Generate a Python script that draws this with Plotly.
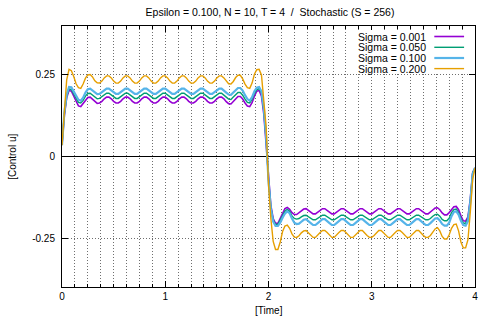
import plotly.graph_objects as go

# ---------------- data ----------------
T_END = 4.0
N_STEPS = 176
time = [i * T_END / N_STEPS for i in range(N_STEPS + 1)]

sigma_labels = ["Sigma = 0.001", "Sigma = 0.050", "Sigma = 0.100", "Sigma = 0.200"]

u_sigma_0001 = [
    0.035, 0.125, 0.180, 0.203, 0.200, 0.185, 0.166, 0.155,
    0.153, 0.162, 0.174, 0.181, 0.182, 0.176, 0.168, 0.163,
    0.164, 0.169, 0.177, 0.182, 0.182, 0.177, 0.169, 0.164,
    0.164, 0.169, 0.177, 0.182, 0.182, 0.177, 0.169, 0.164,
    0.164, 0.169, 0.177, 0.182, 0.182, 0.177, 0.169, 0.164,
    0.164, 0.169, 0.177, 0.182, 0.182, 0.177, 0.169, 0.164,
    0.164, 0.169, 0.177, 0.182, 0.182, 0.177, 0.169, 0.164,
    0.164, 0.169, 0.177, 0.182, 0.182, 0.177, 0.169, 0.164,
    0.164, 0.169, 0.177, 0.182, 0.182, 0.177, 0.168, 0.162,
    0.161, 0.168, 0.178, 0.184, 0.184, 0.176, 0.164, 0.155,
    0.153, 0.165, 0.185, 0.200, 0.203, 0.185, 0.130, 0.040,
    -0.070, -0.150, -0.190, -0.205, -0.205, -0.190, -0.172, -0.160,
    -0.156, -0.162, -0.172, -0.178, -0.178, -0.173, -0.166, -0.161,
    -0.160, -0.165, -0.171, -0.176, -0.176, -0.171, -0.165, -0.160,
    -0.160, -0.165, -0.171, -0.176, -0.176, -0.171, -0.165, -0.160,
    -0.160, -0.165, -0.171, -0.176, -0.176, -0.171, -0.165, -0.160,
    -0.160, -0.165, -0.171, -0.176, -0.176, -0.171, -0.165, -0.160,
    -0.160, -0.165, -0.171, -0.176, -0.176, -0.171, -0.165, -0.160,
    -0.160, -0.165, -0.171, -0.176, -0.176, -0.171, -0.165, -0.160,
    -0.160, -0.165, -0.171, -0.176, -0.176, -0.171, -0.164, -0.158,
    -0.157, -0.163, -0.173, -0.179, -0.179, -0.172, -0.161, -0.154,
    -0.153, -0.163, -0.182, -0.197, -0.198, -0.185, -0.130, -0.050,
    -0.035,
]

u_sigma_0050 = [
    0.035, 0.130, 0.185, 0.207, 0.205, 0.192, 0.176, 0.166,
    0.164, 0.172, 0.185, 0.193, 0.194, 0.189, 0.182, 0.177,
    0.178, 0.183, 0.189, 0.194, 0.194, 0.189, 0.183, 0.178,
    0.178, 0.183, 0.189, 0.194, 0.194, 0.189, 0.183, 0.178,
    0.178, 0.183, 0.189, 0.194, 0.194, 0.189, 0.183, 0.178,
    0.178, 0.183, 0.189, 0.194, 0.194, 0.189, 0.183, 0.178,
    0.178, 0.183, 0.189, 0.194, 0.194, 0.189, 0.183, 0.178,
    0.178, 0.183, 0.189, 0.194, 0.194, 0.189, 0.183, 0.178,
    0.178, 0.183, 0.189, 0.194, 0.194, 0.189, 0.182, 0.176,
    0.175, 0.182, 0.190, 0.196, 0.196, 0.188, 0.176, 0.166,
    0.164, 0.175, 0.193, 0.205, 0.208, 0.195, 0.140, 0.050,
    -0.070, -0.155, -0.195, -0.208, -0.208, -0.196, -0.180, -0.168,
    -0.162, -0.168, -0.182, -0.190, -0.192, -0.190, -0.185, -0.181,
    -0.180, -0.184, -0.190, -0.194, -0.194, -0.190, -0.184, -0.180,
    -0.180, -0.184, -0.190, -0.194, -0.194, -0.190, -0.184, -0.180,
    -0.180, -0.184, -0.190, -0.194, -0.194, -0.190, -0.184, -0.180,
    -0.180, -0.184, -0.190, -0.194, -0.194, -0.190, -0.184, -0.180,
    -0.180, -0.184, -0.190, -0.194, -0.194, -0.190, -0.184, -0.180,
    -0.180, -0.184, -0.190, -0.194, -0.194, -0.190, -0.184, -0.180,
    -0.180, -0.184, -0.190, -0.194, -0.194, -0.190, -0.183, -0.178,
    -0.177, -0.183, -0.193, -0.197, -0.197, -0.189, -0.172, -0.163,
    -0.161, -0.172, -0.190, -0.204, -0.205, -0.190, -0.135, -0.050,
    -0.035,
]

u_sigma_0100 = [
    0.035, 0.135, 0.190, 0.213, 0.212, 0.200, 0.184, 0.174,
    0.171, 0.180, 0.196, 0.206, 0.208, 0.203, 0.196, 0.191,
    0.192, 0.197, 0.203, 0.208, 0.208, 0.203, 0.197, 0.192,
    0.192, 0.197, 0.203, 0.208, 0.208, 0.203, 0.197, 0.192,
    0.192, 0.197, 0.203, 0.208, 0.208, 0.203, 0.197, 0.192,
    0.192, 0.197, 0.203, 0.208, 0.208, 0.203, 0.197, 0.192,
    0.192, 0.197, 0.203, 0.208, 0.208, 0.203, 0.197, 0.192,
    0.192, 0.197, 0.203, 0.208, 0.208, 0.203, 0.197, 0.192,
    0.192, 0.197, 0.203, 0.208, 0.208, 0.203, 0.196, 0.190,
    0.189, 0.196, 0.204, 0.210, 0.210, 0.202, 0.188, 0.176,
    0.171, 0.182, 0.200, 0.211, 0.213, 0.200, 0.150, 0.060,
    -0.075, -0.160, -0.200, -0.213, -0.213, -0.203, -0.188, -0.175,
    -0.168, -0.174, -0.190, -0.203, -0.207, -0.206, -0.200, -0.194,
    -0.192, -0.197, -0.204, -0.210, -0.210, -0.204, -0.197, -0.192,
    -0.192, -0.197, -0.204, -0.210, -0.210, -0.204, -0.197, -0.192,
    -0.192, -0.197, -0.204, -0.210, -0.210, -0.204, -0.197, -0.192,
    -0.192, -0.197, -0.204, -0.210, -0.210, -0.204, -0.197, -0.192,
    -0.192, -0.197, -0.204, -0.210, -0.210, -0.204, -0.197, -0.192,
    -0.192, -0.197, -0.204, -0.210, -0.210, -0.204, -0.197, -0.192,
    -0.192, -0.197, -0.204, -0.210, -0.210, -0.204, -0.196, -0.190,
    -0.189, -0.196, -0.207, -0.212, -0.212, -0.203, -0.183, -0.170,
    -0.168, -0.178, -0.197, -0.210, -0.212, -0.198, -0.140, -0.055,
    -0.035,
]

u_sigma_0200 = [
    0.035, 0.150, 0.235, 0.267, 0.263, 0.245, 0.223, 0.211,
    0.209, 0.222, 0.240, 0.250, 0.251, 0.244, 0.232, 0.226,
    0.225, 0.231, 0.241, 0.247, 0.247, 0.241, 0.231, 0.225,
    0.225, 0.231, 0.241, 0.247, 0.247, 0.241, 0.231, 0.225,
    0.225, 0.231, 0.241, 0.247, 0.247, 0.241, 0.231, 0.225,
    0.225, 0.231, 0.241, 0.247, 0.247, 0.241, 0.231, 0.225,
    0.225, 0.231, 0.241, 0.247, 0.247, 0.241, 0.231, 0.225,
    0.225, 0.231, 0.241, 0.247, 0.247, 0.241, 0.231, 0.225,
    0.225, 0.231, 0.241, 0.247, 0.247, 0.241, 0.230, 0.223,
    0.222, 0.230, 0.242, 0.249, 0.249, 0.238, 0.222, 0.211,
    0.209, 0.225, 0.252, 0.266, 0.267, 0.250, 0.170, 0.090,
    -0.085, -0.190, -0.260, -0.285, -0.285, -0.262, -0.230, -0.213,
    -0.210, -0.220, -0.237, -0.247, -0.248, -0.243, -0.234, -0.228,
    -0.227, -0.233, -0.242, -0.248, -0.248, -0.242, -0.233, -0.227,
    -0.227, -0.233, -0.242, -0.248, -0.248, -0.242, -0.233, -0.227,
    -0.227, -0.233, -0.242, -0.248, -0.248, -0.242, -0.233, -0.227,
    -0.227, -0.233, -0.242, -0.248, -0.248, -0.242, -0.233, -0.227,
    -0.227, -0.233, -0.242, -0.248, -0.248, -0.242, -0.233, -0.227,
    -0.227, -0.233, -0.242, -0.248, -0.248, -0.242, -0.233, -0.227,
    -0.227, -0.233, -0.242, -0.248, -0.248, -0.242, -0.231, -0.222,
    -0.218, -0.228, -0.245, -0.253, -0.253, -0.240, -0.220, -0.209,
    -0.207, -0.228, -0.262, -0.280, -0.280, -0.255, -0.170, -0.070,
    -0.035,
]

x_tick_vals = [0, 1, 2, 3, 4]
y_tick_vals = [-0.25, 0, 0.25]
y_tick_text = ["-0.25", "0", "0.25"]

# ---------------- style ----------------
series = [u_sigma_0001, u_sigma_0050, u_sigma_0100, u_sigma_0200]
colors = ["#9400d3", "#009e73", "#56b4e9", "#e69f00"]
widths = [1.6, 1.4, 2.2, 1.4]
FONT = "Liberation Sans, Arial, sans-serif"

fig = go.Figure()
for vals, name, col, w in zip(series, sigma_labels, colors, widths):
    fig.add_trace(go.Scatter(x=time, y=vals, mode="lines", name=name,
                             line=dict(color=col, width=w, shape="linear"),
                             showlegend=False))

L, R, T, B = 62, 4, 26, 33
W, H = 482, 320
pw = W - L - R
ph = H - T - B


def px_x(x):
    return (x - L) / pw


def px_y(y):
    return (H - B - y) / ph


annotations = []
# opaque key box (the key hides the grid behind it)
shapes = [dict(type="rect", xref="paper", yref="paper", layer="above",
               x0=px_x(357), x1=px_x(477), y0=px_y(74), y1=px_y(30),
               fillcolor="white", line=dict(width=0))]
row_y = [36.5, 47.3, 58.0, 68.6]
for name, col, w, yy in zip(sigma_labels, colors, widths, row_y):
    py = px_y(yy)
    annotations.append(dict(text=name, xref="paper", yref="paper", borderpad=0,
                            x=px_x(430), y=py, xanchor="right", yanchor="middle",
                            showarrow=False, font=dict(family=FONT, size=10.5, color="black")))
    shapes.append(dict(type="line", xref="paper", yref="paper", layer="above",
                       x0=px_x(437), x1=px_x(467), y0=py, y1=py,
                       line=dict(color=col, width=w)))

annotations.append(dict(text="[Time]", xref="paper", yref="paper", x=0.5,
                        y=px_y(311), xanchor="center", yanchor="middle",
                        showarrow=False, font=dict(family=FONT, size=10, color="black")))
annotations.append(dict(text="[Control u]", xref="paper", yref="paper",
                        x=px_x(12), y=0.5, xanchor="center", yanchor="middle",
                        textangle=-90, showarrow=False,
                        font=dict(family=FONT, size=10, color="black")))

grid_col = "#6e6e6e"
grid_dash = "1px,2px"
fig.update_layout(
    width=W, height=H,
    margin=dict(l=L, r=R, t=T, b=B),
    paper_bgcolor="white", plot_bgcolor="white",
    font=dict(family=FONT, size=10, color="black"),
    title=dict(text="Epsilon = 0.100, N = 10, T = 4  /  Stochastic (S = 256)",
               x=(L + pw / 2) / W, xanchor="center", y=1 - 12 / H, yanchor="middle",
               yref="container", font=dict(family=FONT, size=10.5, color="black")),
    annotations=annotations,
    shapes=shapes,
    xaxis=dict(range=[0, 4], tickvals=x_tick_vals, ticks="inside", ticklen=6,
               tickcolor="black", showline=True, linecolor="black", linewidth=1,
               mirror="ticks", showgrid=True, gridcolor=grid_col, griddash=grid_dash,
               gridwidth=1, zeroline=False,
               tickfont=dict(family=FONT, size=10, color="black"),
               minor=dict(dtick=0.125, tick0=0, ticks="inside", ticklen=3,
                          tickcolor="black", showgrid=True, gridcolor=grid_col,
                          griddash=grid_dash, gridwidth=1)),
    yaxis=dict(range=[-0.4, 0.4], tickvals=y_tick_vals, ticktext=y_tick_text,
               ticks="inside", ticklen=6, tickcolor="black", showline=True,
               linecolor="black", linewidth=1, mirror="ticks", showgrid=True,
               gridcolor=grid_col, griddash=grid_dash, gridwidth=1,
               zeroline=True, zerolinecolor="black", zerolinewidth=1,
               ticklabelstandoff=4,
               tickfont=dict(family=FONT, size=10, color="black")),
)

fig.write_html("out.html", config={"displayModeBar": False},
               post_script="document.body.style.margin='0';")
